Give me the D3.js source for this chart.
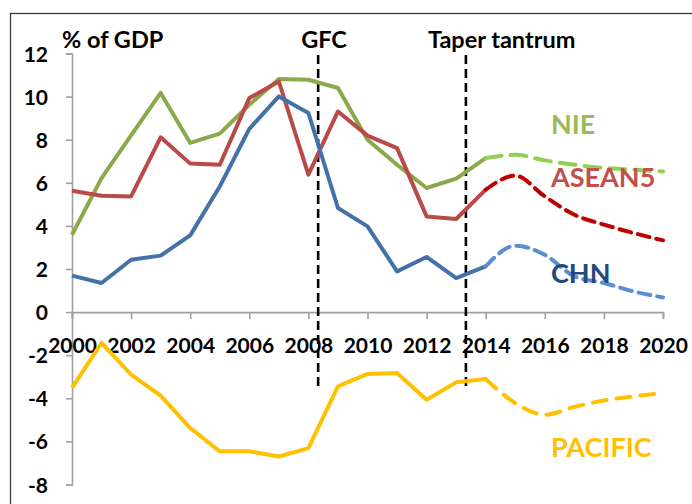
<!DOCTYPE html>
<html>
<head>
<meta charset="utf-8">
<script src="https://cdn.jsdelivr.net/npm/d3@7"></script>
<style>
  body { margin: 0; background: #fff; }
  text { font-family: Lato, "Liberation Sans", sans-serif; font-weight: bold; }
</style>
</head>
<body>
<script>
// years and series (% of GDP), actuals to 2014 then projections
var years = d3.range(2000, 2021);
var nie     = [3.59, 6.22, 8.2, 10.17, 7.85, 8.28, 9.62, 10.82, 10.78, 10.4, 8.0, 6.84, 5.76, 6.19, 7.15, 7.3, 7.04, 6.84, 6.69, 6.61, 6.53];
var asean5  = [5.63, 5.4, 5.37, 8.11, 6.89, 6.84, 9.93, 10.7, 6.38, 9.31, 8.19, 7.61, 4.44, 4.32, 5.68, 6.33, 5.37, 4.52, 4.06, 3.67, 3.33];
var chn     = [1.69, 1.35, 2.43, 2.62, 3.56, 5.83, 8.5, 10.01, 9.24, 4.83, 3.98, 1.89, 2.56, 1.58, 2.12, 3.08, 2.66, 1.66, 1.35, 0.96, 0.68];
var pacific = [-3.52, -1.43, -2.9, -3.88, -5.38, -6.46, -6.46, -6.7, -6.31, -3.45, -2.87, -2.83, -4.07, -3.26, -3.1, -4.22, -4.76, -4.4, -4.1, -3.91, -3.75];
var projStart = 2014;
var yTicks = [-8, -6, -4, -2, 0, 2, 4, 6, 8, 10, 12];
var xTicks = d3.range(2000, 2021, 2);
var eventNames = ["GFC", "Taper tantrum"];
var eventYears = [2008.33, 2013.33];

var width = 692, height = 504;
// label offsets from each marker line (layout only)
var eventLabelShift = [-17, -38];

let svg = d3.select("body").append("svg")
    .attr("width", width)
    .attr("height", height);

// outer frame (runs off the right and bottom edge)
svg.append("rect")
    .attr("x", 10.5).attr("y", 13.5)
    .attr("width", 720).attr("height", 520)
    .attr("fill", "none")
    .attr("stroke", "#3a3a3a")
    .attr("stroke-width", 1.3);

let x = d3.scaleLinear().domain([2000, 2020]).range([72, 663]);
let y = d3.scaleLinear().domain([-8, 12]).range([484.5, 53.5]);

// y axis
let yAxis = svg.append("g")
    .attr("transform", "translate(" + x(2000) + ",0)")
    .call(d3.axisLeft(y).tickValues(yTicks).tickSize(6).tickFormat(d3.format("d")));
yAxis.select(".domain").attr("stroke", "#a0a0a0").attr("stroke-width", 1.6);
yAxis.selectAll(".tick line").attr("stroke", "#a0a0a0").attr("stroke-width", 1.6);
yAxis.selectAll(".tick text")
    .attr("x", -24)
    .attr("dy", "0.36em")
    .style("font-size", "21px")
    .attr("fill", "#000")
    .text(function(d) { return d < 0 ? "-" + Math.abs(d) : d; });

// x axis along zero
let xAxis = svg.append("g")
    .attr("transform", "translate(0," + y(0) + ")")
    .call(d3.axisBottom(x).tickValues(xTicks).tickSize(7).tickFormat(d3.format("d")));
xAxis.select(".domain").attr("stroke", "#a0a0a0").attr("stroke-width", 1.6);
xAxis.selectAll(".tick line").attr("stroke", "#a0a0a0").attr("stroke-width", 1.6);
xAxis.selectAll(".tick text")
    .attr("y", 33)
    .attr("dy", "0.36em")
    .style("font-size", "21px")
    .attr("fill", "#000");

// event markers
let ev = svg.append("g");
ev.selectAll("line")
    .data(eventYears)
    .enter()
    .append("line")
        .attr("x1", function(d) { return x(d); })
        .attr("x2", function(d) { return x(d); })
        .attr("y1", 55)
        .attr("y2", 386)
        .attr("stroke", "#000")
        .attr("stroke-width", 2.6)
        .attr("stroke-dasharray", "9,5");
ev.selectAll("text")
    .data(eventNames)
    .enter()
    .append("text")
        .attr("x", function(d, i) { return x(eventYears[i]) + eventLabelShift[i]; })
        .attr("y", 48)
        .style("font-size", "23.5px")
        .text(function(d) { return d; });

svg.append("text")
    .attr("x", 62).attr("y", 48)
    .style("font-size", "23.5px")
    .text("% of GDP");

// series
var series = [
    { name: "NIE", values: nie, solid: "#8aa94a", dash: "#92d050", dasharray: "16,9", label: "#9bbb59", ly: 124 },
    { name: "ASEAN5", values: asean5, solid: "#b94a48", dash: "#c00000", dasharray: "12,7", label: "#c0504d", ly: 177 },
    { name: "CHN", values: chn, solid: "#4472a8", dash: "#5b8fd0", dasharray: "12,7", label: "#24497c", ly: 273 },
    { name: "PACIFIC", values: pacific, solid: "#ffc000", dash: "#ffc000", dasharray: "14,10", label: "#ffc000", ly: 447 }
];

let solidLine = d3.line()
    .x(function(d) { return x(d.year); })
    .y(function(d) { return y(d.v); });
let dashLine = d3.line()
    .x(function(d) { return x(d.year); })
    .y(function(d) { return y(d.v); })
    .curve(d3.curveMonotoneX);

let lines = svg.append("g").attr("id", "lines");
series.forEach(function(s) {
    let pts = years.map(function(yr, i) { return { year: yr, v: s.values[i] }; });
    lines.append("path")
        .attr("d", solidLine(pts.filter(function(d) { return d.year <= projStart; })))
        .attr("fill", "none")
        .attr("stroke", s.solid)
        .attr("stroke-width", 4)
        .attr("stroke-linejoin", "round");
    lines.append("path")
        .attr("d", dashLine(pts.filter(function(d) { return d.year >= projStart; })))
        .attr("fill", "none")
        .attr("stroke", s.dash)
        .attr("stroke-width", 4)
        .attr("stroke-linecap", "round")
        .attr("stroke-dasharray", s.dasharray);
    lines.append("text")
        .attr("x", 551)
        .attr("y", s.ly)
        .attr("dy", "0.36em")
        .style("font-size", "27px")
        .attr("fill", s.label)
        .text(s.name);
});
</script>
</body>
</html>
